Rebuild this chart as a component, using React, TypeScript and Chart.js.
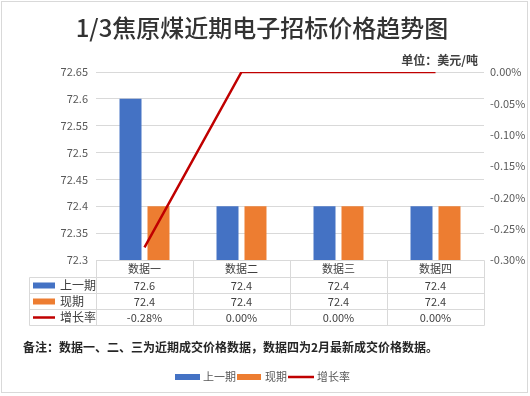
import React, { useEffect, useRef } from "react";
import { Chart, registerables } from "chart.js";

Chart.register(...registerables);

const title = "1/3焦原煤近期电子招标价格趋势图";
const unitText = "单位：美元/吨";
const noteText = "备注：数据一、二、三为近期成交价格数据，数据四为2月最新成交价格数据。";
const categories = ["数据一", "数据二", "数据三", "数据四"];
const prevSeries = [72.6, 72.4, 72.4, 72.4];
const currSeries = [72.4, 72.4, 72.4, 72.4];
const growthSeries = [-0.28, 0.0, 0.0, 0.0];
const leftTicks = [72.3, 72.35, 72.4, 72.45, 72.5, 72.55, 72.6, 72.65];
const rightTicks = [-0.3, -0.25, -0.2, -0.15, -0.1, -0.05, 0];
const seriesNames = ["上一期", "现期", "增长率"];

const BLUE = "#4472C4";
const ORANGE = "#ED7D31";
const RED = "#C00000";
const GRID = "#D9D9D9";
const TEXT = "#595959";
const FONT = '"Noto Sans CJK SC", "Noto Sans", sans-serif';

const fmtLeft = (v: number) => String(Number(v.toFixed(2)));
const fmtPct = (v: number) => v.toFixed(2) + "%";

const decorPlugin = {
  id: "decor",
  afterDraw(chart: any) {
    const ctx = chart.ctx as CanvasRenderingContext2D;
    const area = chart.chartArea;
    const x = chart.scales.x;
    ctx.save();
    // outer border
    ctx.strokeStyle = "#D9D9D9";
    ctx.lineWidth = 1;
    ctx.strokeRect(1.5, 1.5, 526, 391);

    // title
    ctx.fillStyle = "#333333";
    ctx.textAlign = "center";
    ctx.textBaseline = "middle";
    ctx.font = `500 24px ${FONT}`;
    ctx.fillText(title, 262, 28);

    // unit
    ctx.font = `bold 12px ${FONT}`;
    ctx.fillStyle = "#404040";
    ctx.textAlign = "right";
    ctx.fillText(unitText, 478, 60);

    // table
    const n = categories.length;
    const step = (area.right - area.left) / n;
    const top = Math.round(area.bottom) + 0.5;
    const rowH = 16;
    const tableLeft = 29.5;
    const right = area.right + 0.5;
    const rows = [top, top + 17, top + 17 + rowH, top + 17 + rowH * 2, top + 17 + rowH * 3];
    ctx.strokeStyle = GRID;
    ctx.lineWidth = 1;
    ctx.beginPath();
    ctx.moveTo(area.left, rows[0]);
    ctx.lineTo(right, rows[0]);
    for (let r = 1; r < rows.length; r++) {
      ctx.moveTo(tableLeft, rows[r]);
      ctx.lineTo(right, rows[r]);
    }
    ctx.moveTo(tableLeft, rows[1]);
    ctx.lineTo(tableLeft, rows[4]);
    for (let i = 0; i <= n; i++) {
      const vx = Math.round(area.left + step * i) + 0.5;
      ctx.moveTo(vx, rows[0]);
      ctx.lineTo(vx, rows[4]);
    }
    ctx.stroke();

    ctx.font = `11px ${FONT}`;
    ctx.fillStyle = "#404040";
    ctx.textAlign = "center";
    ctx.textBaseline = "middle";
    const rowData = [
      prevSeries.map((v) => fmtLeft(v)),
      currSeries.map((v) => fmtLeft(v)),
      growthSeries.map((v) => fmtPct(v)),
    ];
    for (let i = 0; i < n; i++) {
      const cx = x.getPixelForValue(i);
      ctx.fillText(categories[i], cx, (rows[0] + rows[1]) / 2);
      for (let r = 0; r < 3; r++) {
        ctx.fillText(rowData[r][i], cx, (rows[r + 1] + rows[r + 2]) / 2);
      }
    }
    const colors = [BLUE, ORANGE, RED];
    for (let r = 0; r < 3; r++) {
      const cy = (rows[r + 1] + rows[r + 2]) / 2;
      ctx.fillStyle = colors[r];
      if (r < 2) ctx.fillRect(33, cy - 3, 22, 6);
      else ctx.fillRect(33, cy - 1.25, 22, 2.5);
      ctx.fillStyle = "#404040";
      ctx.textAlign = "left";
      ctx.font = `12px ${FONT}`;
      ctx.fillText(seriesNames[r], 60, cy);
    }

    // note
    ctx.font = `bold 12px ${FONT}`;
    ctx.fillStyle = "#262626";
    ctx.textAlign = "left";
    ctx.fillText(noteText, 23, 347);

    // legend
    ctx.font = `11px ${FONT}`;
    const ly = 377;
    ctx.fillStyle = BLUE;
    ctx.fillRect(175, ly - 3, 25, 6);
    ctx.fillStyle = TEXT;
    ctx.fillText(seriesNames[0], 203, ly);
    ctx.fillStyle = ORANGE;
    ctx.fillRect(237, ly - 3, 24, 6);
    ctx.fillStyle = TEXT;
    ctx.fillText(seriesNames[1], 265, ly);
    ctx.fillStyle = RED;
    ctx.fillRect(288, ly - 1.25, 26, 2.5);
    ctx.fillStyle = TEXT;
    ctx.fillText(seriesNames[2], 317, ly);
    ctx.restore();
  },
};

export default function App() {
  const ref = useRef<HTMLCanvasElement | null>(null);
  useEffect(() => {
    if (!ref.current) return;
    const chart = new Chart(ref.current, {
      type: "bar",
      data: {
        labels: categories,
        datasets: [
          {
            type: "line",
            label: seriesNames[2],
            data: growthSeries,
            yAxisID: "y1",
            borderColor: RED,
            backgroundColor: RED,
            borderWidth: 2.5,
            pointRadius: 0,
            tension: 0,
            order: 0,
          } as any,
          {
            label: seriesNames[0],
            data: prevSeries,
            backgroundColor: BLUE,
            yAxisID: "y",
            categoryPercentage: 0.577,
            barPercentage: 0.786,
            order: 1,
          },
          {
            label: seriesNames[1],
            data: currSeries,
            backgroundColor: ORANGE,
            yAxisID: "y",
            categoryPercentage: 0.577,
            barPercentage: 0.786,
            order: 1,
          },
        ],
      },
      options: {
        animation: false,
        responsive: false,
        maintainAspectRatio: false,
        layout: { padding: { left: 0, right: 0, top: 72, bottom: 136 } },
        plugins: {
          legend: { display: false },
          title: { display: false },
          tooltip: { enabled: false },
        },
        scales: {
          x: { display: false, offset: true },
          y: {
            position: "left",
            min: 72.3,
            max: 72.65,
            afterBuildTicks: (s: any) => {
              s.ticks = leftTicks.map((v) => ({ value: v }));
            },
            afterFit: (s: any) => {
              s.width = 96;
            },
            border: { display: false },
            grid: { color: GRID, drawTicks: false, lineWidth: 1 },
            ticks: {
              padding: 8,
              color: TEXT,
              font: { family: FONT, size: 11 },
              callback: (v: any) => fmtLeft(Number(v)),
            },
          },
          y1: {
            position: "right",
            min: -0.3,
            max: 0,
            afterBuildTicks: (s: any) => {
              s.ticks = rightTicks.map((v) => ({ value: v }));
            },
            afterFit: (s: any) => {
              s.width = 46;
            },
            border: { display: false },
            grid: { display: false, drawTicks: false },
            ticks: {
              padding: 6,
              color: TEXT,
              font: { family: FONT, size: 11 },
              callback: (v: any) => fmtPct(Number(v)),
            },
          },
        },
      },
      plugins: [decorPlugin],
    });
    return () => chart.destroy();
  }, []);
  return (
    <div style={{ position: "fixed", left: 0, top: 0, width: 530, height: 396, background: "#fff" }}>
      <canvas ref={ref} width={530} height={396} style={{ width: 530, height: 396, display: "block" }} />
    </div>
  );
}
